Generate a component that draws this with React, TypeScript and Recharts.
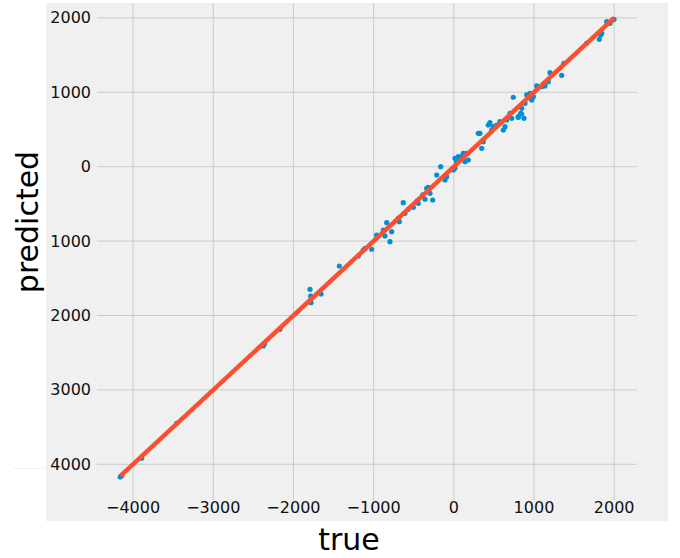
import React from "react";
import { ScatterChart, Scatter, XAxis, YAxis, CartesianGrid } from "recharts";

const trueVals = [
  -4160, -4140, -3893, -3456, -2376, -2360, -2168, -1793, -1785, -1781, -1656, -1428,
  -1191, -1129, -1107, -1024, -962, -879, -858, -837, -796, -775, -692, -680, -630,
  -609, -567, -505, -455, -443, -388, -359, -338, -318, -297, -263, -213, -163, -110,
  -89, -6, 15, 36, 56, 98, 140, 161, 15, 36, 118, 181, 306, 327, 348, 368, 430, 451,
  473, 493, 535, 576, 618, 639, 660, 722, 742, 701, 804, 834, 847, 888, 909, 950, 972,
  992, 1034, 1096, 1137, 875, 804, 847, 1137, 1179, 1200, 1346, 1374, 1657, 1815, 1832,
  1845, 1907, 1948, 1982, 1998,
];
const predVals = [
  -4170, -4150, -3919, -3449, -2410, -2380, -2186, -1648, -1738, -1828, -1711, -1335,
  -1200, -1120, -1097, -1110, -918, -851, -931, -752, -1008, -873, -694, -739, -484,
  -627, -573, -546, -457, -492, -380, -438, -290, -277, -358, -448, -112, 0, -179,
  -134, -44, -22, 90, 134, 134, 67, 180, 113, 54, 180, 90, 449, 449, 247, 336, 560, 591,
  493, 538, 560, 605, 493, 538, 628, 650, 933, 717, 672, 717, 785, 852, 964, 986, 896,
  941, 1085, 1075, 1121, 650, 664, 708, 1085, 1143, 1264, 1228, 1390, 1659, 1712, 1770,
  1793, 1949, 1927, 1972, 1981,
];
const fitX = [-4160, 2000];
const fitY = [-4160, 2000];
const tickValues = [-4000, -3000, -2000, -1000, 0, 1000, 2000];
const xLabel = "true";
const yLabel = "predicted";

const points = trueVals.map((t, i) => ({ x: t, y: predVals[i] }));
const fitLine = fitX.map((t, i) => ({ x: t, y: fitY[i] }));

const FONT = "'DejaVu Sans', sans-serif";

const XTick = (props: any) => {
  const { x, y, payload } = props;
  const v = payload.value;
  const s = v < 0 ? "\u2212" + Math.abs(v) : String(v);
  return (
    <text x={x} y={y} dy={13} textAnchor="middle" fontSize={16} fontFamily={FONT} fill="#111">
      {s}
    </text>
  );
};

const YTick = (props: any) => {
  const { x, y, payload } = props;
  return (
    <text x={x} y={y} dy={5.5} textAnchor="end" fontSize={16} fontFamily={FONT} fill="#111">
      {String(Math.abs(payload.value))}
    </text>
  );
};

const Dot = (props: any) => (
  <circle cx={props.cx} cy={props.cy} r={2.6} fill="#008fd5" />
);

export default function App() {
  return (
    <div style={{ position: "absolute", left: 0, top: 0, width: 680, height: 558, background: "#fff" }}>
      <div style={{ position: "absolute", left: 46, top: 3, width: 622, height: 518, background: "#f0f0f0" }} />
      <div style={{ position: "absolute", left: 12, top: 468, width: 34, height: 1, background: "#f3f3f3" }} />
      <div style={{ position: "absolute", left: 0, top: 0 }}>
        <ScatterChart
          width={680}
          height={558}
          margin={{ top: 3, right: 43, bottom: 28, left: 37 }}
        >
          <CartesianGrid stroke="#cbcbcb" strokeWidth={1} horizontal vertical syncWithTicks />
          <XAxis
            type="number"
            dataKey="x"
            domain={[-4450, 2285]}
            ticks={tickValues}
            axisLine={false}
            tickLine={false}
            tickSize={0}
            tickMargin={0}
            height={30}
            tick={<XTick />}
            interval={0}
            allowDataOverflow
          />
          <YAxis
            type="number"
            dataKey="y"
            domain={[-4480, 2200]}
            ticks={tickValues}
            axisLine={false}
            tickLine={false}
            tickSize={0}
            tickMargin={6}
            width={60}
            tick={<YTick />}
            interval={0}
            allowDataOverflow
          />
          <Scatter data={points} shape={<Dot />} isAnimationActive={false} />
          <Scatter
            data={fitLine}
            line={{ stroke: "#fc4f30", strokeWidth: 4.5 }}
            shape={() => null}
            isAnimationActive={false}
          />
        </ScatterChart>
      </div>
      <div
        style={{
          position: "absolute",
          left: 349,
          top: 540,
          transform: "translate(-50%, -50%)",
          fontFamily: FONT,
          fontSize: 30,
          color: "#000",
          whiteSpace: "nowrap",
          lineHeight: 1,
        }}
      >
        {xLabel}
      </div>
      <div
        style={{
          position: "absolute",
          left: 28,
          top: 222,
          transform: "translate(-50%, -50%) rotate(-90deg)",
          fontFamily: FONT,
          fontSize: 30,
          color: "#000",
          whiteSpace: "nowrap",
          lineHeight: 1,
        }}
      >
        {yLabel}
      </div>
    </div>
  );
}
